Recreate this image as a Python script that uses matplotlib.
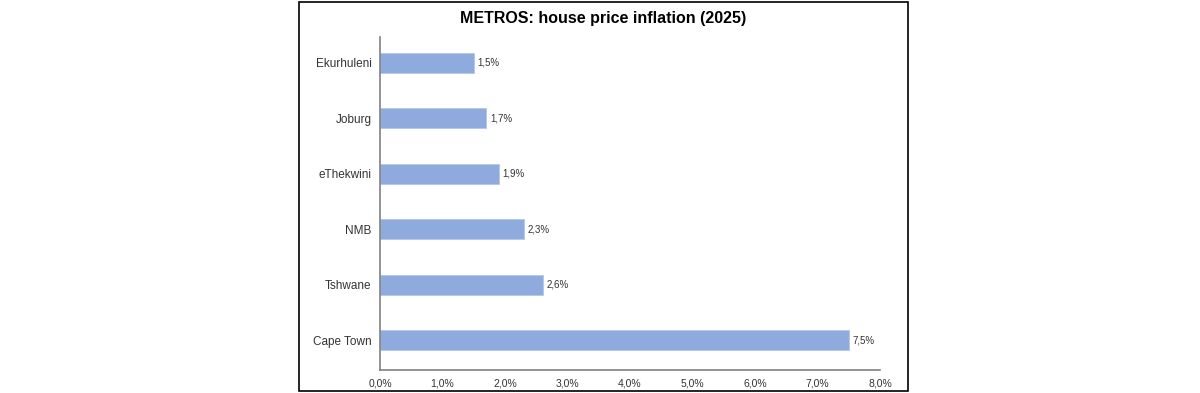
import numpy as np
import matplotlib.pyplot as plt
from matplotlib.patches import Rectangle

metros = ['Ekurhuleni', 'Joburg', 'eThekwini', 'NMB', 'Tshwane', 'Cape Town']
inflation = [1.5, 1.7, 1.9, 2.3, 2.6, 7.5]
xticks = [0, 1, 2, 3, 4, 5, 6, 7, 8]

plt.rcParams['font.family'] = ['Liberation Sans', 'DejaVu Sans']

fig = plt.figure(figsize=(12, 3.93), dpi=100)
fig.patches.append(Rectangle((0.249, 0.006), 0.508, 0.988, transform=fig.transFigure,
                             fill=False, edgecolor='black', linewidth=1.2))

ax = fig.add_axes([0.3167, 0.0585, 0.4166, 0.848])
pos = np.arange(len(metros))
bars = ax.barh(pos, inflation, height=0.36, color='#8FAADC', edgecolor='#B4C7E7', linewidth=0.6)
ax.set_ylim(len(metros) - 0.46, -0.47)
ax.set_yticks(pos)
ax.set_yticklabels(metros, fontsize=8.5, color='#333333')
ax.set_xlim(0, 8)
ax.set_xticks(xticks)
ax.set_xticklabels([f'{v:.1f}%'.replace('.', ',') for v in xticks], fontsize=7.5, color='#333333')
ax.tick_params(length=0, pad=6)

for b, v in zip(bars, inflation):
    ax.text(b.get_width() + 0.06, b.get_y() + b.get_height() / 2, f'{v:.1f}%'.replace('.', ','),
            va='center', ha='left', fontsize=7, color='#333333')

for s in ['top', 'right']:
    ax.spines[s].set_visible(False)
for s in ['left', 'bottom']:
    ax.spines[s].set_color('#808080')
    ax.spines[s].set_linewidth(1.2)

fig.text(0.503, 0.952, 'METROS: house price inflation (2025)', ha='center', va='center',
         fontsize=11.5, fontweight='bold')

fig.savefig('out.png', dpi=100)
